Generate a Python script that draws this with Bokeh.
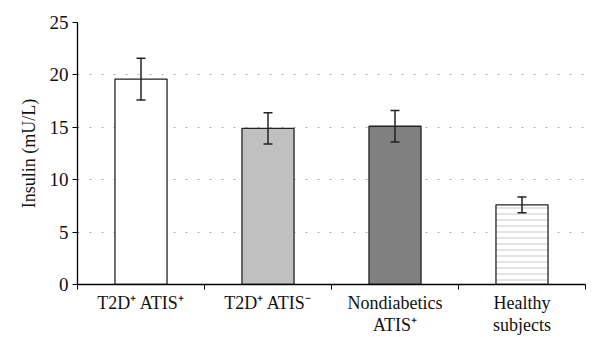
from bokeh.plotting import figure
from bokeh.models import FixedTicker, Whisker, ColumnDataSource, Range1d, TeeHead
from bokeh.embed import file_html
from bokeh.resources import INLINE

groups = ["T2D⁺ ATIS⁺", "T2D⁺ ATIS⁻", "Nondiabetics\nATIS⁺", "Healthy\nsubjects"]
insulin = [19.6, 14.9, 15.1, 7.6]
sem = [2.0, 1.5, 1.5, 0.75]
colors = ["#ffffff", "#c0c0c0", "#808080", "#ffffff"]
hatches = [" ", " ", " ", "horizontal_line"]
yticks = [0, 5, 10, 15, 20, 25]

xs = [i + 0.5 for i in range(len(groups))]
src = ColumnDataSource(dict(
    x=xs, top=insulin, color=colors, hatch=hatches,
    upper=[v + e for v, e in zip(insulin, sem)],
    lower=[v - e for v, e in zip(insulin, sem)],
))

FONT = "Liberation Serif"

p = figure(width=597, height=337, output_backend="svg", toolbar_location=None,
           x_range=Range1d(0, len(groups)), y_range=Range1d(0, 25),
           min_border_left=77, min_border_right=12, min_border_top=22, min_border_bottom=53)
p.outline_line_color = None
p.xgrid.visible = False
p.ygrid.ticker = FixedTicker(ticks=yticks[1:])
p.ygrid.grid_line_color = "#aaaaaa"
p.ygrid.grid_line_dash = "2 10"
p.ygrid.grid_line_width = 1.2

p.vbar(x="x", top="top", width=0.41, source=src, fill_color="color",
       line_color="#222222", line_width=1.3,
       hatch_pattern="hatch", hatch_color="#bbbbbb", hatch_scale=6, hatch_weight=0.8)

w = Whisker(base="x", upper="upper", lower="lower", source=src, level="overlay",
            line_color="#222222", line_width=1.5,
            upper_head=TeeHead(size=9, line_color="#222222", line_width=1.5),
            lower_head=TeeHead(size=9, line_color="#222222", line_width=1.5))
p.add_layout(w)

p.xaxis.ticker = FixedTicker(ticks=xs, minor_ticks=[0, 1, 2, 3, 4])
p.xaxis.major_label_overrides = {x: g for x, g in zip(xs, groups)}
p.xaxis.major_tick_out = 0
p.xaxis.major_tick_in = 0
p.xaxis.minor_tick_out = 5
p.xaxis.minor_tick_in = 0
p.xaxis.major_label_standoff = 3
p.xaxis.major_label_text_font = FONT
p.xaxis.major_label_text_font_size = "18px"
p.xaxis.major_label_text_line_height = 1.1
p.xaxis.major_label_text_color = "#111111"
p.xaxis.axis_line_width = 1.3

p.yaxis.ticker = FixedTicker(ticks=yticks)
p.yaxis.minor_tick_out = 0
p.yaxis.minor_tick_in = 0
p.yaxis.major_tick_out = 5
p.yaxis.major_tick_in = 0
p.yaxis.major_label_standoff = 4
p.yaxis.axis_label = "Insulin (mU/L)"
p.yaxis.axis_label_text_font = FONT
p.yaxis.axis_label_text_font_style = "normal"
p.yaxis.axis_label_text_font_size = "18px"
p.yaxis.axis_label_standoff = 8
p.yaxis.axis_label_text_color = "#111111"
p.yaxis.major_label_text_font = FONT
p.yaxis.major_label_text_font_size = "19px"
p.yaxis.major_label_text_color = "#111111"
p.yaxis.axis_line_width = 1.3

open("out.html", "w").write(file_html(p, INLINE))
